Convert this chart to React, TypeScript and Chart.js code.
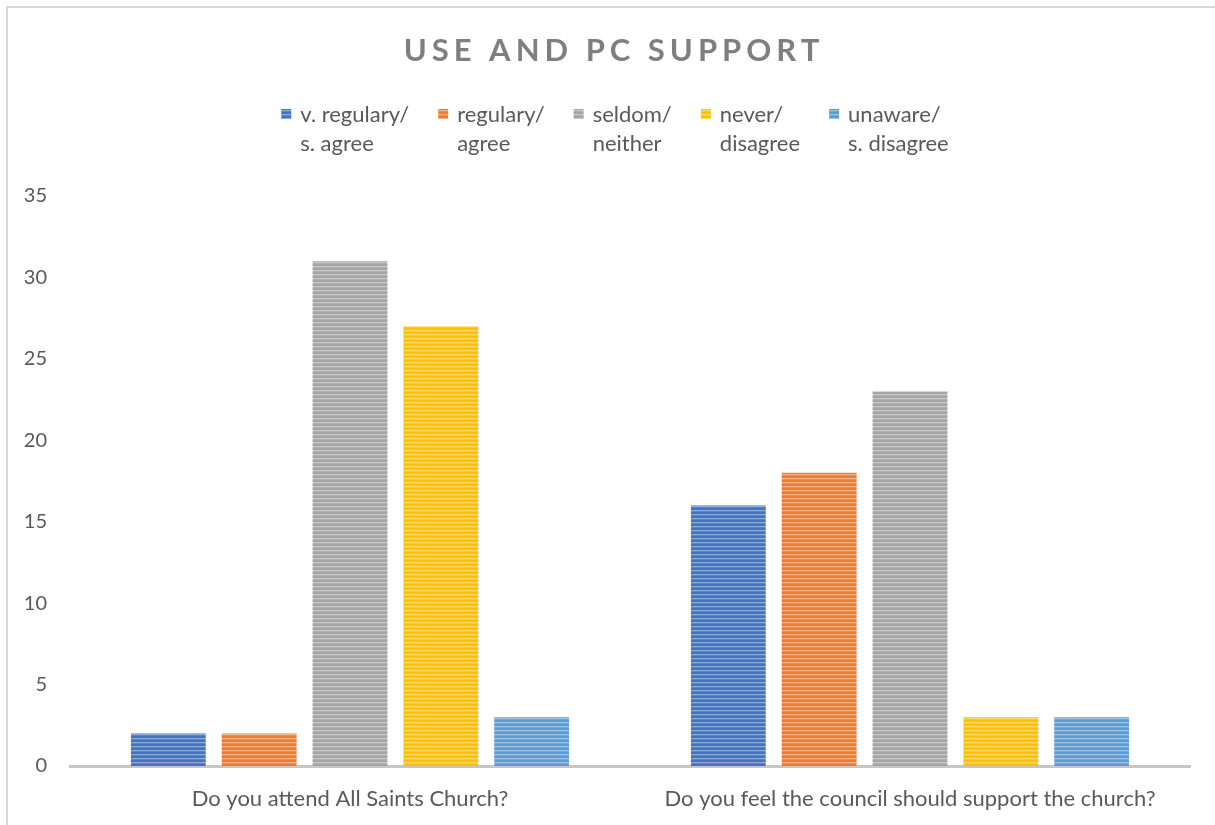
import { useEffect, useRef } from "react";
import { Chart, registerables } from "chart.js";

Chart.register(...registerables);

const chartTitle = "USE AND PC SUPPORT";
const categories = [
  "Do you attend All Saints Church?",
  "Do you feel the council should support the church?",
];
const seriesLabels = [
  ["v. regulary/", "s. agree"],
  ["regulary/", "agree"],
  ["seldom/", "neither"],
  ["never/", "disagree"],
  ["unaware/", "s. disagree"],
];
const seriesColors = ["#4472C4", "#ED7D31", "#A5A5A5", "#FFC000", "#5B9BD5"];
const vRegularlySAgree = [2, 16];
const regularlyAgree = [2, 18];
const seldomNeither = [31, 23];
const neverDisagree = [27, 3];
const unawareSDisagree = [3, 3];
const seriesValues = [vRegularlySAgree, regularlyAgree, seldomNeither, neverDisagree, unawareSDisagree];
const yMin = 0;
const yMax = 35;
const yStep = 5;

const FONT = "Lato, 'Open Sans', sans-serif";
const TEXT = "#595959";

function stripePattern(color: string): CanvasPattern | string {
  const c = document.createElement("canvas");
  c.width = 4;
  c.height = 4;
  const x = c.getContext("2d");
  if (!x) return color;
  x.fillStyle = color;
  x.fillRect(0, 0, 4, 4);
  x.fillStyle = "rgba(255,255,255,0.4)";
  x.fillRect(0, 2, 4, 1);
  x.fillStyle = "rgba(255,255,255,0.12)";
  x.fillRect(0, 3, 4, 1);
  return x.createPattern(c, "repeat") || color;
}

const titlePlugin = {
  id: "spacedTitle",
  afterDraw(chart: any) {
    const ctx = chart.ctx as CanvasRenderingContext2D;
    ctx.save();
    ctx.font = `bold 31px ${FONT}`;
    (ctx as any).letterSpacing = "5px";
    ctx.fillStyle = "#7f7f7f";
    ctx.textBaseline = "middle";
    ctx.textAlign = "center";
    ctx.fillText(chartTitle, 614, 51);
    ctx.restore();
  },
};

const legendPlugin = {
  id: "twoLineLegend",
  afterDraw(chart: any) {
    const ctx = chart.ctx as CanvasRenderingContext2D;
    ctx.save();
    ctx.font = `22px ${FONT}`;
    ctx.textBaseline = "middle";
    ctx.textAlign = "left";
    const box = 10;
    const boxGap = 9;
    const itemGap = 29;
    const lineH = 28.5;
    const firstY = 115;
    const items = chart.data.datasets.map((ds: any, i: number) => {
      const lines = String(ds.label).split("\n");
      const w = Math.max(...lines.map((l: string) => ctx.measureText(l).width));
      return { lines, w, color: seriesColors[i], fill: ds.backgroundColor };
    });
    const total =
      items.reduce((s: number, it: any) => s + box + boxGap + it.w, 0) + itemGap * (items.length - 1);
    let x = 615 - total / 2;
    items.forEach((it: any) => {
      ctx.fillStyle = it.fill;
      ctx.fillRect(x, firstY - box / 2 - 1, box, box);
      ctx.fillStyle = TEXT;
      it.lines.forEach((l: string, k: number) => {
        ctx.fillText(l, x + box + boxGap, firstY + k * lineH);
      });
      x += box + boxGap + it.w + itemGap;
    });
    ctx.restore();
  },
};

export default function App() {
  const ref = useRef<HTMLCanvasElement | null>(null);

  useEffect(() => {
    if (!ref.current) return;
    const chart = new Chart(ref.current, {
      type: "bar",
      data: {
        labels: categories,
        datasets: seriesValues.map((vals, i) => ({
          label: seriesLabels[i].join("\n"),
          data: vals,
          backgroundColor: stripePattern(seriesColors[i]) as any,
          borderWidth: 0,
          categoryPercentage: 0.811,
          barPercentage: 0.824,
        })),
      },
      options: {
        animation: false,
        responsive: false,
        devicePixelRatio: 1,
        layout: { padding: { top: 196, left: 10, right: 25, bottom: 15 } },
        plugins: {
          legend: { display: false },
          title: { display: false },
          tooltip: { enabled: false },
        },
        scales: {
          x: {
            grid: { display: false, drawTicks: false },
            border: { display: true, color: "#c6c6c6", width: 3 },
            ticks: {
              color: TEXT,
              font: { family: FONT, size: 22 },
              padding: 20,
              maxRotation: 0,
              autoSkip: false,
            },
            afterFit: (scale: any) => {
              scale.height = 44;
            },
          },
          y: {
            min: yMin,
            max: yMax,
            grid: { display: false, drawTicks: false },
            border: { display: false },
            ticks: {
              stepSize: yStep,
              color: TEXT,
              font: { family: FONT, size: 20 },
              padding: 23,
            },
            afterFit: (scale: any) => {
              scale.width = 60;
            },
          },
        },
      },
      plugins: [titlePlugin, legendPlugin],
    });
    return () => chart.destroy();
  }, []);

  return (
    <div style={{ position: "fixed", left: 0, top: 0, width: 1215, height: 825, overflow: "hidden", background: "#fff" }}>
      <div
        style={{
          position: "absolute",
          left: 6,
          top: 6,
          width: 1300,
          height: 900,
          border: "2px solid #d9d9d9",
          boxSizing: "border-box",
        }}
      />
      <canvas ref={ref} width={1215} height={825} style={{ position: "absolute", left: 0, top: 0 }} />
    </div>
  );
}
